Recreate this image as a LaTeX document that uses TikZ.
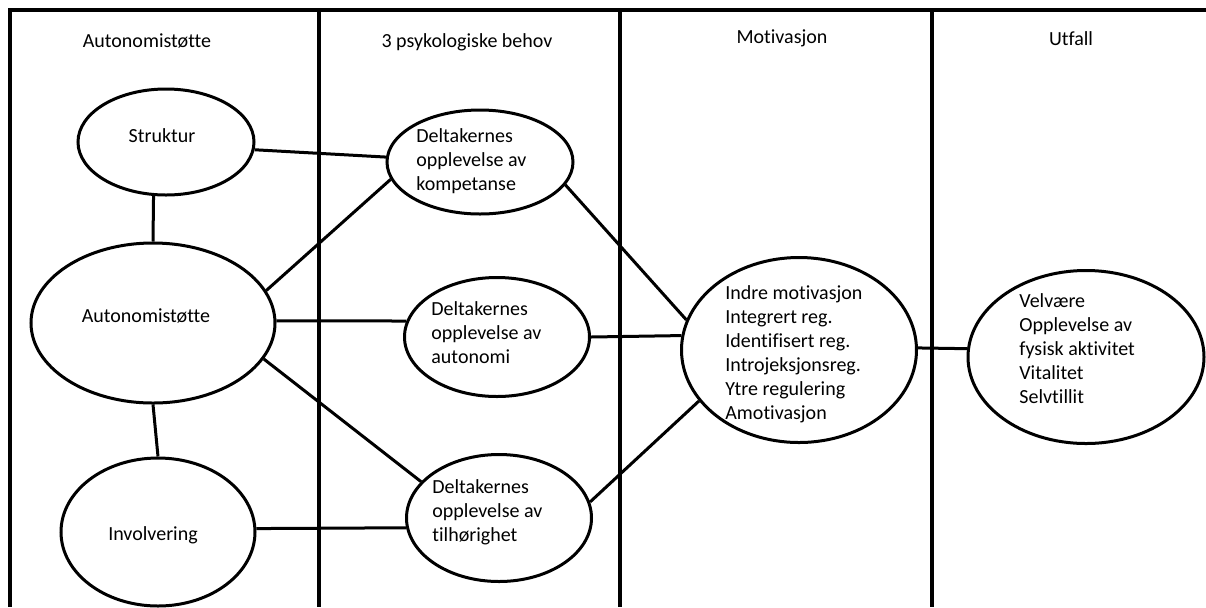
\documentclass[tikz,border=0pt]{standalone}
\usepackage{fontspec}
\setmainfont{Carlito}[Ligatures=NoCommon]
\usetikzlibrary{shapes.geometric}

\begin{document}
\begin{tikzpicture}[
  x=0.5pt,y=-0.5pt,
  oval/.style={draw,ellipse,line width=1.5pt,inner sep=0pt},
  txt/.style={inner sep=0pt,font=\fontsize{10pt}{12pt}\selectfont,
    text height=7pt,text depth=2pt},
  lines/.style={inner sep=0pt,anchor=west,align=left,
    font=\fontsize{10pt}{12pt}\selectfont},
  link/.style={line width=1.5pt},
  rule/.style={line width=1.6pt}]
\useasboundingbox (0,0) rectangle (1206,607);
\draw[rule] (1206,10) -- (10,10) -- (10,607);
\foreach \x in {319,620,932}
  \draw[rule] (\x,10) -- (\x,607);
\node[txt] (hsupport) at (147,42) {Autonomistøtte};
\node[txt] (hneeds) at (467,42) {3 psykologiske behov};
\node[txt] (hmotiv) at (782,38) {Motivasjon};
\node[txt] (hout) at (1071,40) {Utfall};
\node[oval,minimum width=88pt,minimum height=53pt] (strukt) at (166,142) {};
\node[txt] (strukt-t) at (162,137) {Struktur};
\node[oval,minimum width=122pt,minimum height=80pt] (autost) at (153,323) {};
\node[txt] (autost-t) at (146,317) {Autonomistøtte};
\node[oval,minimum width=97pt,minimum height=74pt] (invol) at (158,532) {};
\node[txt] (invol-t) at (153,535) {Involvering};
\node[oval,minimum width=93pt,minimum height=52pt] (komp) at (480,162) {};
\node[lines] (komp-t) at (416,161) {Deltakernes\\opplevelse av\\kompetanse};
\node[oval,minimum width=92.5pt,minimum height=59.5pt] (autonomi) at (497,337) {};
\node[lines] (autonomi-t) at (431,333) {Deltakernes\\opplevelse av\\autonomi};
\node[oval,minimum width=92.5pt,minimum height=63.5pt] (tilhor) at (499,518) {};
\node[lines] (tilhor-t) at (432,512) {Deltakernes\\opplevelse av\\tilhørighet};
\node[oval,minimum width=117.5pt,minimum height=92.5pt] (motiv) at (799,350) {};
\node[lines] (motiv-t) at (725,354) {Indre motivasjon\\Integrert reg.\\Identifisert reg.\\Introjeksjonsreg.\\Ytre regulering\\Amotivasjon};
\node[oval,minimum width=118pt,minimum height=86.5pt] (utfall) at (1086,357) {};
\node[lines] (utfall-t) at (1019,349) {Velvære\\Opplevelse av\\fysisk aktivitet\\Vitalitet\\Selvtillit};
\draw[link] (strukt.-5) -- (komp.177);
\draw[link] (strukt.-103) -- (autost.north);
\draw[link] (autost.16) -- (komp.191);
\draw[link] (autost.1) -- (autonomi.170);
\draw[link] (autost.-18) -- (tilhor.155);
\draw[link] (autost.south) -- (invol.north);
\draw[link] (invol.2) -- (tilhor.186);
\draw[link] (komp.-15) -- (motiv.165);
\draw[link] (autonomi.east) -- (motiv.173);
\draw[link] (tilhor.10) -- (motiv.207);
\draw[link] (motiv.1) -- (utfall.176);
\end{tikzpicture}
\end{document}
